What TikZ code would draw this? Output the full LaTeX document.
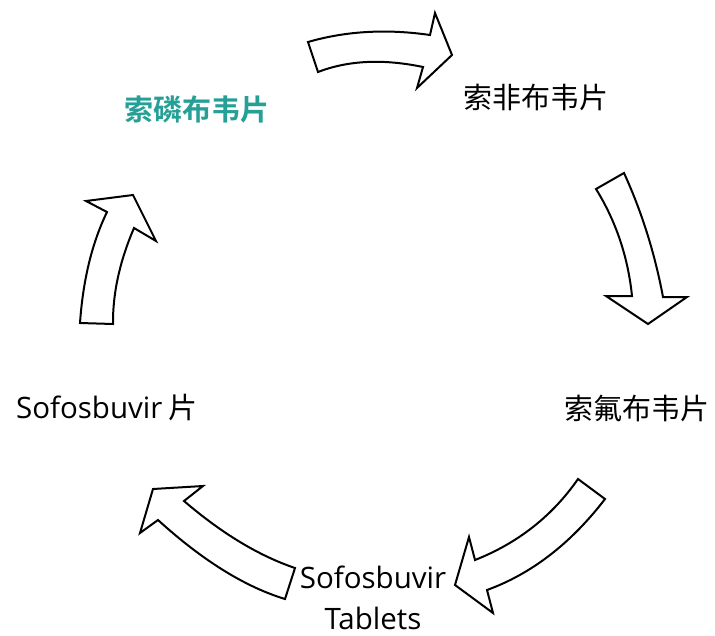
\documentclass[tikz,border=0pt]{standalone}
\usepackage{fontspec}
\setmainfont{Noto Sans CJK SC}
\newfontfamily\lat{Open Sans}
\newfontfamily\cjkb{Noto Sans CJK SC Bold}
\definecolor{teal1}{RGB}{38,160,150}
\newcommand{\latsz}{\lat\fontsize{29.5}{44}\selectfont}
\begin{document}
\begin{tikzpicture}[x=1pt,y=-1pt,
  blockarrow/.style={draw=black,fill=white,line width=2pt,line join=miter},
  lbl/.style={font=\fontsize{29}{44}\selectfont,inner sep=0pt,align=center}]
\useasboundingbox (0,0) rectangle (715,635);
% labels
\node[lbl,text=teal1] (a) at (197,110) {\cjkb 索磷布韦片};
\node[lbl] (b) at (536,97) {索非布韦片};
\node[lbl] (c) at (637,408) {索氟布韦片};
\node[lbl] (d) at (373,598) {{\latsz Sofosbuvir}\\[-3pt]{\latsz Tablets}};
\node[lbl] (e) at (107,408) {{\latsz Sofosbuvir} 片};
% arrow a -> b
\draw[blockarrow] (308,42) .. controls (346,31) and (386.7,28.7) .. (430,35) -- (435,13) -- (452,55) -- (417,88) -- (423,67)
  .. controls (383.3,58.7) and (348.3,60.3) .. (318,72) -- cycle;
% arrow b -> c
\draw[blockarrow] (596,189) -- (624,173) .. controls (641.7,211.7) and (654.7,253) .. (663,297) -- (687,297) -- (648,324) -- (606,296) -- (632,296)
  .. controls (628,257) and (616,221.3) .. (596,189) -- cycle;
% arrow c -> d
\draw[blockarrow] (578,479) -- (605,499) .. controls (571,543.3) and (531.7,573.7) .. (487,590) -- (493,613) -- (455,585) -- (469,537) -- (475,560)
  .. controls (518,543) and (552.3,516) .. (578,479) -- cycle;
% arrow d -> e
\draw[blockarrow] (295,568) .. controls (258.7,555.7) and (221.7,533.3) .. (184,501) -- (203,486) -- (153,489) -- (140,533) -- (158,520)
  .. controls (202.3,560.3) and (244.7,586.7) .. (285,599) -- cycle;
% arrow e -> a
\draw[blockarrow] (80,323) -- (113,324) .. controls (112.7,293.3) and (119.7,261.3) .. (134,228) -- (156,241) -- (133,195) -- (86,201) -- (107,212)
  .. controls (92,243) and (83,280) .. (80,323) -- cycle;
\end{tikzpicture}
\end{document}
